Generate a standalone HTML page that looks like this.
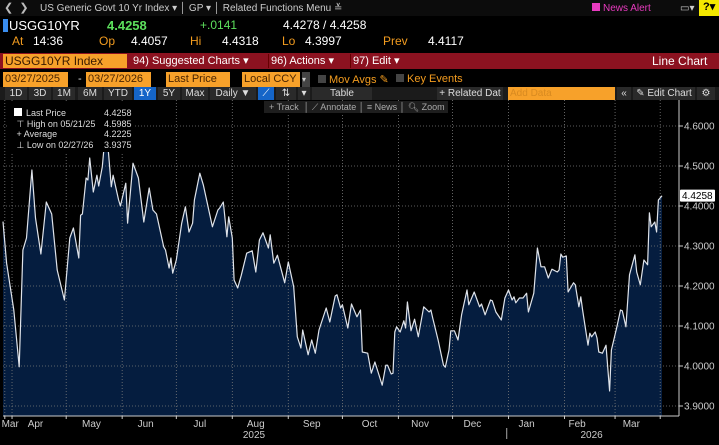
<!DOCTYPE html>
<html><head><meta charset="utf-8">
<style>
*{margin:0;padding:0;box-sizing:border-box}
body{width:719px;height:445px;background:#000;overflow:hidden;position:relative;font-family:"Liberation Sans Narrow","Liberation Sans",sans-serif;color:#ddd}
.a{position:absolute;white-space:nowrap}
.t{font-size:11px;line-height:13px}
.or{color:#f39c1f}
.box{background:#f7a12a;color:#4a2500;font-size:11px;line-height:15px;padding-left:2px}
.btn{position:absolute;top:87px;height:13px;font-size:10px;line-height:13px;color:#ddd;background:#2a2a2a;text-align:center}
.cb{position:absolute;top:54px;font-size:11px;line-height:14px;color:#fff}
.q{position:absolute;top:34px;font-size:12px;color:#fff}
.q.or{color:#f39c1f}
</style></head><body>
<div class="a" style="left:0;top:0;width:719px;height:16px;background:#0c0c0c"></div>
<div class="a t" style="left:4px;top:2px;color:#bbb">&#10094;&nbsp;&nbsp;&#10095;</div>
<div class="a t" style="left:40px;top:2px;color:#ccc;font-size:10px">US Generic Govt 10 Yr Index ▾ │ GP ▾ │ Related Functions Menu ≚</div>
<div class="a t" style="left:592px;top:2px;color:#e83bbf;font-size:10px"><span style="display:inline-block;width:8px;height:8px;background:#e83bbf;margin-right:3px"></span>News Alert</div>
<div class="a t" style="left:680px;top:2px;color:#ccc;font-size:10px">▭▾</div>
<div class="a" style="left:699px;top:0;width:20px;height:16px;background:#f4e800;color:#000;font-size:11px;font-weight:bold;padding-left:4px">?▾</div>

<div class="a" style="left:3px;top:19px;width:5px;height:13px;background:#3a8ef0"></div>
<div class="a" style="left:9px;top:18px;font-size:13px;color:#fff">USGG10YR</div>
<div class="a" style="left:107px;top:18px;font-size:13px;color:#5de05d;font-weight:bold">4.4258</div>
<div class="a" style="left:200px;top:18px;font-size:12px;color:#5de05d">+.0141</div>
<div class="a" style="left:283px;top:18px;font-size:12px;color:#fff">4.4278 / 4.4258</div>
<div class="q or" style="left:12px">At</div>
<div class="q" style="left:33px">14:36</div>
<div class="q or" style="left:99px">Op</div>
<div class="q" style="left:131px">4.4057</div>
<div class="q or" style="left:190px">Hi</div>
<div class="q" style="left:222px">4.4318</div>
<div class="q or" style="left:282px">Lo</div>
<div class="q" style="left:305px">4.3997</div>
<div class="q or" style="left:383px">Prev</div>
<div class="q" style="left:428px">4.4117</div>

<div class="a" style="left:0;top:53px;width:719px;height:16px;background:#8c1220"></div>
<div class="a" style="left:3px;top:54px;width:124px;height:14px;background:#f7a12a;color:#3a1a00;font-size:12px;line-height:14px;padding-left:2px">USGG10YR Index</div>
<div class="cb" style="left:133px">94) Suggested Charts ▾</div>
<div class="cb" style="left:268px;border-left:1px solid #600;padding-left:2px">96) Actions ▾</div>
<div class="cb" style="left:350px;border-left:1px solid #600;padding-left:2px">97) Edit ▾</div>
<div class="cb" style="left:652px;font-size:12px">Line Chart</div>

<div class="a box" style="left:3px;top:72px;width:65px;height:15px">03/27/2025</div>
<div class="a t" style="left:78px;top:73px">-</div>
<div class="a box" style="left:86px;top:72px;width:65px;height:15px">03/27/2026</div>
<div class="a box" style="left:166px;top:72px;width:64px;height:15px">Last Price</div>
<div class="a box" style="left:242px;top:72px;width:58px;height:15px">Local CCY</div>
<div class="a" style="left:302px;top:72px;width:8px;height:15px;background:#444;font-size:8px;color:#ccc;line-height:15px">▾</div>
<div class="a" style="left:318px;top:73px;font-size:11px" ><span style="display:inline-block;width:8px;height:8px;background:#444;margin-right:3px"></span><span class="or">Mov Avgs ✎</span></div>
<div class="a" style="left:396px;top:73px;font-size:11px"><span style="display:inline-block;width:8px;height:8px;background:#444;margin-right:3px"></span><span class="or">Key Events</span></div>

<div class="a" style="left:0;top:87px;width:719px;height:13px;background:#1b1b1b"></div>
<div class="btn" style="left:5px;width:22px">1D</div>
<div class="btn" style="left:29px;width:22px">3D</div>
<div class="btn" style="left:53px;width:22px">1M</div>
<div class="btn" style="left:78px;width:24px">6M</div>
<div class="btn" style="left:104px;width:28px">YTD</div>
<div class="btn" style="left:134px;width:22px;background:#1565c8;color:#fff">1Y</div>
<div class="btn" style="left:158px;width:22px">5Y</div>
<div class="btn" style="left:182px;width:26px">Max</div>
<div class="btn" style="left:210px;width:46px">Daily ▼</div>
<div class="btn" style="left:258px;width:16px;background:#1565c8;color:#fff">⟋</div>
<div class="btn" style="left:276px;width:20px">⇅</div>
<div class="btn" style="left:298px;width:12px">▾</div>
<div class="btn" style="left:312px;width:60px">Table</div>
<div class="btn" style="left:437px;width:66px">+ Related Dat</div>
<div class="a" style="left:508px;top:87px;width:107px;height:13px;background:#f7a12a;color:#d88a20;font-size:10px;line-height:13px;padding-left:2px">Add Data</div>
<div class="btn" style="left:617px;width:14px">«</div>
<div class="btn" style="left:633px;width:62px">✎ Edit Chart</div>
<div class="btn" style="left:697px;width:18px">⚙</div>

<svg class="a" style="left:0;top:100px" width="719" height="345" id="chart"></svg>

<div class="a" style="left:264px;top:101px;width:184px;height:12px;background:#1e1e1e;font-size:9px;line-height:12px;color:#aaa">&nbsp;&nbsp;+ Track&nbsp;&nbsp;│ ⟋ Annotate │ ≡ News │ 🔍︎ Zoom</div>

<div class="a" style="left:8px;top:103px;width:127px;height:49px;background:#000;font-size:9px;line-height:10.5px;color:#ddd;padding:5px 0 0 6px">
<div><span style="display:inline-block;width:8px;height:8px;background:#fff;margin-right:4px"></span>Last Price<span style="position:absolute;left:96px">4.4258</span></div>
<div>&nbsp;⊤ High on 05/21/25<span style="position:absolute;left:96px">4.5985</span></div>
<div>&nbsp;+ Average<span style="position:absolute;left:96px">4.2225</span></div>
<div>&nbsp;⊥ Low on 02/27/26<span style="position:absolute;left:96px">3.9375</span></div>
</div>

<script>
const days=[0,2,6,9,11,13,16,18,21,24,27,30,34,37,39,42,43,44,46,47,48,50,52,53,55,57,58,60,61,64,65,68,69,72,75,78,81,83,85,89,90,92,93,94,96,99,101,103,105,106,109,111,116,119,120,122,124,125,127,128,130,132,135,138,140,142,144,147,148,150,152,156,158,161,163,165,166,169,171,173,175,179,181,184,185,187,188,191,193,196,198,199,202,204,206,210,212,213,215,216,217,218,220,222,223,224,226,228,230,233,236,237,238,241,244,245,247,248,250,252,254,257,258,261,264,265,267,270,271,273,276,278,280,282,283,284,286,288,290,291,294,296,298,300,302,304,307,308,309,310,312,313,316,317,319,320,321,324,325,326,328,329,330,332,334,336,337,340,342,343,345,347,350,351,353,355,357,358,359,361,362,363,365];
const values=[4.361,4.257,4.14,3.998,4.29,4.32,4.49,4.37,4.28,4.41,4.38,4.24,4.165,4.32,4.345,4.27,4.377,4.38,4.47,4.465,4.52,4.435,4.477,4.45,4.498,4.5985,4.557,4.448,4.477,4.415,4.40,4.457,4.357,4.507,4.47,4.36,4.445,4.39,4.38,4.298,4.29,4.245,4.27,4.232,4.265,4.357,4.398,4.335,4.357,4.415,4.482,4.452,4.348,4.39,4.395,4.41,4.323,4.373,4.32,4.215,4.195,4.227,4.282,4.288,4.235,4.315,4.333,4.295,4.328,4.257,4.277,4.208,4.26,4.198,4.073,4.045,4.09,4.028,4.065,4.032,4.09,4.145,4.11,4.175,4.178,4.145,4.153,4.095,4.155,4.123,4.14,4.035,4.032,3.982,4.01,3.952,4.002,4.002,3.98,3.982,4.085,4.098,4.085,4.113,4.095,4.16,4.088,4.117,4.073,4.148,4.135,4.14,4.12,4.065,4.002,3.997,4.04,4.088,4.088,4.065,4.128,4.19,4.153,4.185,4.148,4.155,4.128,4.165,4.163,4.135,4.115,4.17,4.19,4.165,4.173,4.158,4.17,4.17,4.182,4.135,4.182,4.295,4.248,4.248,4.22,4.242,4.235,4.24,4.28,4.272,4.275,4.185,4.208,4.203,4.148,4.173,4.14,4.052,4.082,4.073,4.085,4.07,4.035,4.032,4.052,3.9375,4.04,4.098,4.14,4.138,4.098,4.228,4.278,4.235,4.203,4.265,4.253,4.383,4.348,4.36,4.335,4.415,4.4258];
const yTicks=[3.9,4.0,4.1,4.2,4.3,4.4,4.5,4.6];
const monthLabels=["Mar","Apr","May","Jun","Jul","Aug","Sep","Oct","Nov","Dec","Jan","Feb","Mar"];
const monthLabelDays=[4,18,49,79,109,140,171,203,231,260,290,318,348];
const monthStartDays=[1,5,35,66,96,127,158,188,219,249,280,311,339,364];
const yearLabels=["2025","2026"];
const yearLabelDays=[139,326];
const lastValue=4.4258;

const svg=document.getElementById('chart');
const NS='http://www.w3.org/2000/svg';
const OY=100;
const X=d=>3+d*659/365;
const Y=v=>366-OY-(v-4.0)*400;
const AXY=416-OY;
function mk(t,a){const e=document.createElementNS(NS,t);for(const k in a)e.setAttribute(k,a[k]);svg.appendChild(e);return e;}

let pts=days.map((d,i)=>X(d).toFixed(1)+','+Y(values[i]).toFixed(1));
const area=mk('path',{d:'M'+X(days[0])+','+AXY+' L'+pts.join(' L')+' L'+X(days[days.length-1])+','+AXY+' Z',fill:'#051d3f'});



yTicks.forEach(v=>{
  const g=mk('line',{x1:3,x2:679,y1:Y(v),y2:Y(v),stroke:'#7a7a7a','stroke-width':0.8,'stroke-dasharray':'1,2'});
  
  
  const tk=mk('line',{x1:679,x2:683,y1:Y(v),y2:Y(v),stroke:'#ccc'});
  
  
  const t=mk('text',{x:684,y:Y(v)+3.5,fill:'#ccc','font-size':10,'font-family':'Liberation Sans Narrow, Liberation Sans, sans-serif'});
  t.textContent=v.toFixed(4);
  
  
});
monthStartDays.forEach(d=>{
  const g=mk('line',{x1:X(d),x2:X(d),y1:0,y2:AXY,stroke:'#7a7a7a','stroke-width':0.8,'stroke-dasharray':'1,2'});
  
  
  const tk=mk('line',{x1:X(d),x2:X(d),y1:AXY,y2:AXY+3,stroke:'#ccc'});
  
  
});
const line=mk('polyline',{points:pts.join(' '),fill:'none',stroke:'#dfe3ea','stroke-width':1.2,'stroke-linejoin':'round'});



const xa=mk('line',{x1:3,x2:679,y1:AXY,y2:AXY,stroke:'#ccc','stroke-width':1});


const ya=mk('line',{x1:679,x2:679,y1:0,y2:AXY,stroke:'#ccc','stroke-width':1});



monthLabels.forEach((m,i)=>{
  const t=mk('text',{x:X(monthLabelDays[i]),y:AXY+11,fill:'#ccc','font-size':10,'text-anchor':'middle','font-family':'Liberation Sans Narrow, Liberation Sans, sans-serif'});
  t.textContent=m;
  
  
});
yearLabels.forEach((y,i)=>{
  const t=mk('text',{x:X(yearLabelDays[i]),y:AXY+22,fill:'#ccc','font-size':10,'text-anchor':'middle','font-family':'Liberation Sans Narrow, Liberation Sans, sans-serif'});
  t.textContent=y;
  
  
});
const sep=mk('line',{x1:X(279),x2:X(279),y1:AXY+12,y2:AXY+23,stroke:'#aaa'});



const tag=mk('rect',{x:680,y:Y(lastValue)-6,width:35,height:12,fill:'#fff',rx:1});


const tt=mk('text',{x:682,y:Y(lastValue)+3.5,fill:'#000','font-size':10,'font-family':'Liberation Sans Narrow, Liberation Sans, sans-serif'});
tt.textContent=lastValue.toFixed(4);


</script>
</body></html>
